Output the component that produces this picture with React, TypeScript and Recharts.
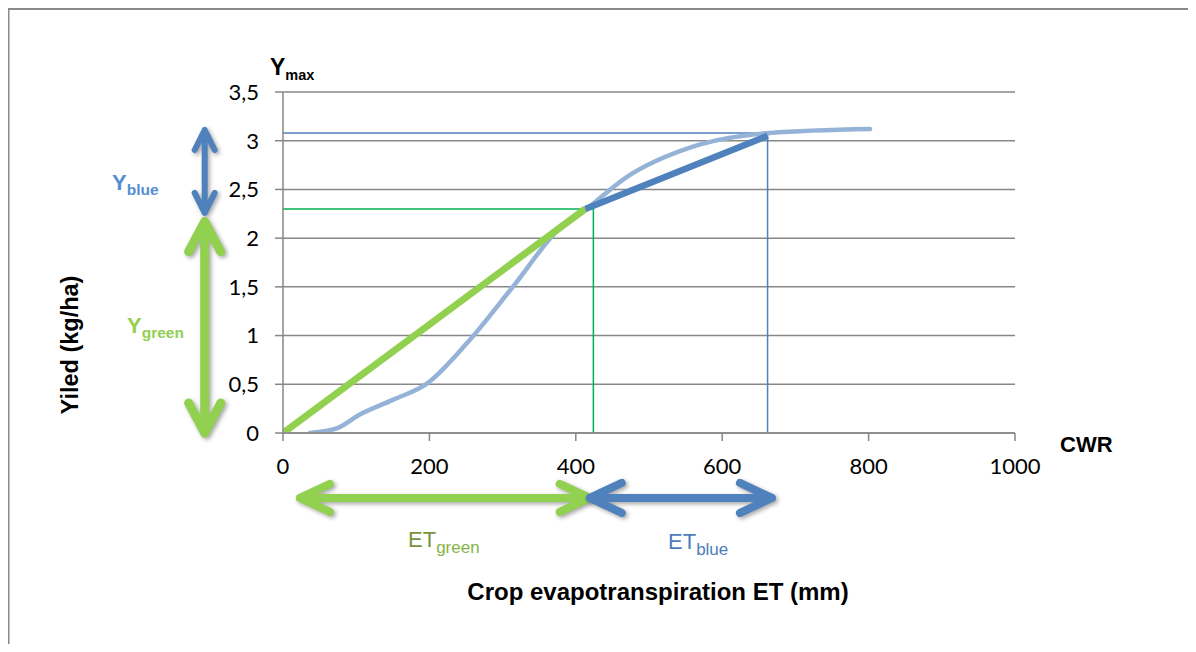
import { LineChart, Line, XAxis, YAxis, CartesianGrid, ReferenceLine } from 'recharts';

// light blue yield response curve
const curveEt = [37, 74, 105, 150, 197, 251, 314, 378, 413, 470, 560, 665, 802];
const curveYield = [0, 0.05, 0.19, 0.34, 0.51, 0.92, 1.5, 2.1, 2.29, 2.63, 2.94, 3.08, 3.12];

// straight green / blue segments
const greenEt = [0, 413];
const greenYield = [0, 2.3];
const blueEt = [413, 662];
const blueYield = [2.3, 3.05];

// guide lines
const yMaxValue = 3.08;
const etBlueEnd = 662;
const yGreenValue = 2.3;
const etGreenEnd = 424;

const xTicks = [0, 200, 400, 600, 800, 1000];
const yTicks = [0, 0.5, 1, 1.5, 2, 2.5, 3, 3.5];

// annotation arrows, in data units
const arrowYblue = { x: -107, from: 3.11, to: 2.26 };
const arrowYgreen = { x: -107, from: 2.17, to: 0 };
const arrowEtGreen = { y: -0.667, from: 23, to: 419 };
const arrowEtBlue = { y: -0.667, from: 419, to: 668 };

const GREEN = '#92D050';
const BLUE = '#4F81BD';
const LIGHT_BLUE = '#95B3D7';
const GRID = '#878787';

const toRows = (xs: number[], ys: number[]) => xs.map((x, i) => ({ et: x, y: ys[i] }));

const arrowShape = (color: string, width: number, len: number, half: number) => (props: any) => {
  const { x1, y1, x2, y2 } = props;
  const dx = x2 - x1;
  const dy = y2 - y1;
  const d = Math.sqrt(dx * dx + dy * dy) || 1;
  const ux = dx / d;
  const uy = dy / d;
  const px = -uy;
  const py = ux;
  const head = (tx: number, ty: number, sx: number, sy: number) =>
    `M${tx - sx * len + px * half},${ty - sy * len + py * half} L${tx},${ty} L${tx - sx * len - px * half},${ty - sy * len - py * half}`;
  return (
    <g style={{ filter: 'drop-shadow(2px 2px 2px rgba(0,0,0,0.35))' }}>
      <path
        d={`M${x1},${y1} L${x2},${y2} ${head(x2, y2, ux, uy)} ${head(x1, y1, -ux, -uy)}`}
        stroke={color}
        strokeWidth={width}
        fill="none"
        strokeLinecap="round"
        strokeLinejoin="round"
      />
    </g>
  );
};

const fmt = (v: number) => String(v).replace('.', ',');

export default function App() {
  // the wrapper cancels the body margin so that chart coordinates equal page coordinates
  return (
    <div style={{ position: 'relative', width: 1196, height: 652, margin: '-8px 0 -8px -8px' }}>
      <LineChart width={1196} height={652} margin={{ top: 92, right: 181, bottom: 189, left: 223 }}>
        <CartesianGrid vertical={false} stroke={GRID} strokeWidth={1.5} />
        <XAxis
          type="number"
          dataKey="et"
          domain={[0, 1000]}
          ticks={xTicks}
          allowDataOverflow
          height={30}
          tickSize={8}
          tickMargin={17}
          stroke={GRID}
          strokeWidth={1.5}
          tick={{ fill: '#000', fontSize: 22, fontFamily: 'Lato' }}
        />
        <YAxis
          type="number"
          domain={[0, 3.5]}
          ticks={yTicks}
          allowDataOverflow
          width={60}
          tickSize={8}
          tickMargin={16}
          stroke={GRID}
          strokeWidth={1.5}
          tickFormatter={fmt}
          tick={{ fill: '#000', fontSize: 22, fontFamily: 'Lato' }}
        />
        <ReferenceLine segment={[{ x: 0, y: yMaxValue }, { x: etBlueEnd, y: yMaxValue }]} stroke={BLUE} strokeWidth={1.5} />
        <ReferenceLine segment={[{ x: etBlueEnd, y: 0 }, { x: etBlueEnd, y: yMaxValue }]} stroke={BLUE} strokeWidth={1.5} />
        <ReferenceLine segment={[{ x: 0, y: yGreenValue }, { x: etGreenEnd, y: yGreenValue }]} stroke="#00B050" strokeWidth={1.5} />
        <ReferenceLine segment={[{ x: etGreenEnd, y: 0 }, { x: etGreenEnd, y: yGreenValue }]} stroke="#00B050" strokeWidth={1.5} />
        <Line
          data={toRows(curveEt, curveYield)}
          dataKey="y"
          type="monotoneX"
          stroke={LIGHT_BLUE}
          strokeWidth={4.5}
          strokeLinecap="round"
          dot={false}
          isAnimationActive={false}
        />
        <Line data={toRows(greenEt, greenYield)} dataKey="y" stroke={GREEN} strokeWidth={7} dot={false} isAnimationActive={false} />
        <Line data={toRows(blueEt, blueYield)} dataKey="y" stroke={BLUE} strokeWidth={6.5} dot={false} isAnimationActive={false} />
        <ReferenceLine
          ifOverflow="visible"
          segment={[{ x: arrowYblue.x, y: arrowYblue.from }, { x: arrowYblue.x, y: arrowYblue.to }]}
          shape={arrowShape(BLUE, 6, 20, 10)}
        />
        <ReferenceLine
          ifOverflow="visible"
          segment={[{ x: arrowYgreen.x, y: arrowYgreen.from }, { x: arrowYgreen.x, y: arrowYgreen.to }]}
          shape={arrowShape(GREEN, 9, 30, 16)}
        />
        <ReferenceLine
          ifOverflow="visible"
          segment={[{ x: arrowEtGreen.from, y: arrowEtGreen.y }, { x: arrowEtGreen.to, y: arrowEtGreen.y }]}
          shape={arrowShape(GREEN, 8, 30, 14)}
        />
        <ReferenceLine
          ifOverflow="visible"
          segment={[{ x: arrowEtBlue.from, y: arrowEtBlue.y }, { x: arrowEtBlue.to, y: arrowEtBlue.y }]}
          shape={arrowShape(BLUE, 8, 32, 15)}
        />
      </LineChart>
      {/* frame and labels, in page coordinates */}
      <svg
        width={1196}
        height={652}
        style={{ position: 'absolute', left: 0, top: 0, pointerEvents: 'none' }}
        fontFamily="'Liberation Sans', Arial, sans-serif"
      >
        <path d="M8.5,652 L8.5,9 L1196,9" stroke="#8a8a8a" strokeWidth={2} fill="none" />
        <text x={270} y={75} fontWeight="bold" fontSize={23}>
          Y<tspan fontSize={14.5} dy={5}>max</tspan>
        </text>
        <text x={1060} y={452} fontWeight="bold" fontSize={22}>CWR</text>
        <text x={658} y={600} fontWeight="bold" fontSize={24} textAnchor="middle">
          Crop evapotranspiration ET (mm)
        </text>
        <text x={78} y={345} fontWeight="bold" fontSize={23.5} textAnchor="middle" transform="rotate(-90 78 345)">
          Yiled (kg/ha)
        </text>
        <text x={112} y={190} fontWeight="bold" fontSize={22} fill="#558ED5">
          Y<tspan fontSize={15.5} dy={5}>blue</tspan>
        </text>
        <text x={127} y={333} fontWeight="bold" fontSize={22} fill={GREEN}>
          Y<tspan fontSize={15.5} dy={5}>green</tspan>
        </text>
        <text x={408} y={547} fontSize={22} fill="#77933C">
          ET<tspan fontSize={17} dy={6} fill="#86B448">green</tspan>
        </text>
        <text x={668} y={549} fontSize={22} fill="#4A7EBB">
          ET<tspan fontSize={17} dy={6}>blue</tspan>
        </text>
      </svg>
    </div>
  );
}
